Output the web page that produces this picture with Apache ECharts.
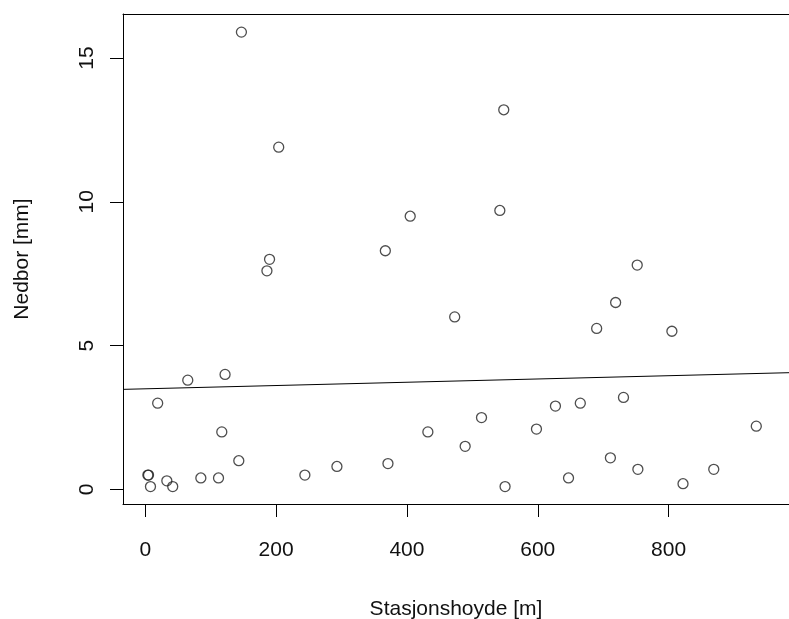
<!DOCTYPE html>
<html>
<head>
<meta charset="utf-8">
<script src="https://cdn.jsdelivr.net/npm/echarts@6/dist/echarts.min.js"></script>
<style>
  html, body { margin: 0; padding: 0; background: #fff; }
  #main { width: 789px; height: 619px; }
</style>
</head>
<body>
<div id="main"></div>
<script>
// stasjonshoyde [m] / nedbor [mm]
var hoyde = [5, 4, 8, 19, 33, 42, 65, 85, 112, 117, 122, 143, 147, 186, 190, 204,
	244, 293, 367, 371, 405, 432, 473, 489, 514, 542, 548, 550, 598, 627, 647,
	665, 690, 711, 719, 731, 752, 753, 805, 822, 869, 934];
var nedbor = [0.5, 0.5, 0.1, 3.0, 0.3, 0.1, 3.8, 0.4, 0.4, 2.0, 4.0, 1.0, 15.9, 7.6, 8.0, 11.9,
	0.5, 0.8, 8.3, 0.9, 9.5, 2.0, 6.0, 1.5, 2.5, 9.7, 13.2, 0.1, 2.1, 2.9, 0.4,
	3.0, 5.6, 1.1, 6.5, 3.2, 7.8, 0.7, 5.5, 0.2, 0.7, 2.2];
// regresjonslinje (lest av bildet)
var linjeX = [-34, 984];
var linjeY = [3.48, 4.06];

var xTicks = [0, 200, 400, 600, 800];
var yTicks = [0, 5, 10, 15];

var punkter = [];
for (var i = 0; i < hoyde.length; i++) {
	punkter.push([hoyde[i], nedbor[i]]);
}
var linje = [];
for (var j = 0; j < linjeX.length; j++) {
	linje.push([linjeX[j], linjeY[j]]);
}

var font = 'Liberation Sans, Arial, Helvetica, sans-serif';
var fs = 21;

var option = {
	animation: false,
	backgroundColor: '#fff',
	grid: {
		left: 123,
		top: 14,
		bottom: 115,
		right: 0,
		outerBoundsMode: 'none',
		show: false
	},
	xAxis: [{
		type: 'value',
		min: -34,
		max: 984,
		name: 'Stasjonshoyde [m]',
		nameLocation: 'middle',
		nameGap: 95,
		nameTextStyle: { fontFamily: font, fontSize: fs, color: '#111', verticalAlign: 'top' },
		axisLine: { show: true, onZero: false, lineStyle: { color: '#000', width: 1 } },
		axisTick: { show: true, length: 13, customValues: xTicks, lineStyle: { color: '#000', width: 1 } },
		axisLabel: { customValues: xTicks, margin: 36, fontFamily: font, fontSize: fs, color: '#111', verticalAlign: 'top' },
		splitLine: { show: false }
	}, {
		// toppkant av rammen
		type: 'value',
		position: 'top',
		min: -34,
		max: 984,
		axisLine: { show: true, onZero: false, lineStyle: { color: '#000', width: 1 } },
		axisTick: { show: false },
		axisLabel: { show: false },
		splitLine: { show: false }
	}],
	yAxis: {
		type: 'value',
		min: -0.505,
		max: 16.53,
		name: 'Nedbor [mm]',
		nameLocation: 'middle',
		nameGap: 90,
		nameTextStyle: { fontFamily: font, fontSize: fs, color: '#111' },
		axisLine: { show: true, onZero: false, lineStyle: { color: '#000', width: 1 } },
		axisTick: { show: true, length: 13, customValues: yTicks, lineStyle: { color: '#000', width: 1 } },
		axisLabel: { customValues: yTicks, rotate: 90, margin: 25, fontFamily: font, fontSize: fs, color: '#111' },
		splitLine: { show: false }
	},
	series: [{
		type: 'scatter',
		data: punkter,
		symbol: 'circle',
		symbolSize: 10,
		itemStyle: { color: 'rgba(0,0,0,0)', borderColor: '#222', borderWidth: 1.3 }
	}, {
		type: 'line',
		data: linje,
		symbol: 'none',
		clip: true,
		lineStyle: { color: '#000', width: 1 }
	}]
};

var chart = echarts.init(document.getElementById('main'));
chart.setOption(option);
</script>
</body>
</html>
